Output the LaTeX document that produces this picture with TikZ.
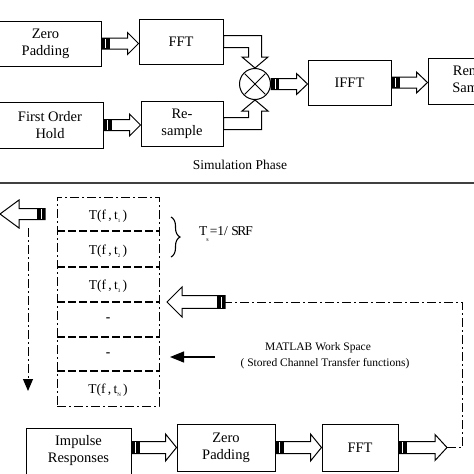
\documentclass[tikz,border=0pt]{standalone}
\usepackage{fontspec}
\setmainfont{Liberation Serif}
\usetikzlibrary{calc,arrows.meta,decorations.pathreplacing}
\tikzset{
  blk/.style={draw, line width=1pt, rectangle, inner sep=0pt, align=center, font=\fontsize{14.5}{17}\selectfont},
  hol/.style={draw, line width=1pt, fill=white, line join=miter},
  ddline/.style={line width=1pt, dash pattern=on 9pt off 3pt on 2pt off 3pt},
  sepline/.style={line width=1.3pt, dash pattern=on 8pt off 3pt},
  rowtxt/.style={font=\fontsize{13.5}{16}\selectfont, inner sep=0pt},
  smalltxt/.style={font=\fontsize{11.5}{15}\selectfont, inner sep=0pt, align=center},
}
% hollow arrow pointing right: #1 start, #2 end, #3 shaft half, #4 head half, #5 head length
\newcommand{\harrowR}[5]{%
  \draw[hol] let \p1=(#1), \p2=(#2) in (\x1,\y1+#3) -- (\x2-#5,\y1+#3) -- (\x2-#5,\y1+#4) -- (\x2,\y1) -- (\x2-#5,\y1-#4) -- (\x2-#5,\y1-#3) -- (\x1,\y1-#3) -- cycle;
  \fill let \p1=(#1) in (\x1,\y1-#3) rectangle (\x1+8pt,\y1+#3);
  \draw[white, line width=0.9pt] let \p1=(#1) in (\x1+4pt,\y1-#3+0.8pt) -- (\x1+4pt,\y1+#3-0.8pt);
}
% hollow arrow pointing left
\newcommand{\harrowL}[5]{%
  \draw[hol] let \p1=(#1), \p2=(#2) in (\x1,\y1+#3) -- (\x2+#5,\y1+#3) -- (\x2+#5,\y1+#4) -- (\x2,\y1) -- (\x2+#5,\y1-#4) -- (\x2+#5,\y1-#3) -- (\x1,\y1-#3) -- cycle;
  \fill let \p1=(#1) in (\x1,\y1-#3) rectangle (\x1-8pt,\y1+#3);
  \draw[white, line width=0.9pt] let \p1=(#1) in (\x1-4pt,\y1-#3+0.8pt) -- (\x1-4pt,\y1+#3-0.8pt);
}
\newcommand{\sub}[1]{\raisebox{-3pt}{\fontsize{5}{5}\selectfont #1}}
\begin{document}
\begin{tikzpicture}[x=1pt,y=-1pt]
\useasboundingbox (0,0) rectangle (474,474);
\fill[white] (0,0) rectangle (474,474);

% ---------- Simulation phase ----------
\node[blk, minimum width=111pt, minimum height=45pt] (zp1) at (45.5,43.5) {Zero\\Padding};
\node[blk, minimum width=84pt, minimum height=45pt] (fft1) at (181,41.5) {FFT};
\node[blk, minimum width=106pt, minimum height=46pt] (foh) at (50,125) {First Order\\Hold};
\node[blk, minimum width=82pt, minimum height=45pt] (rs) at (182,123.5) {Re-\\sample};
\node[draw, circle, line width=1pt, minimum size=31pt, inner sep=0pt] (mult) at (255,84) {};
\draw[line width=1pt, shorten >=1.5pt, shorten <=1.5pt] (mult.north west) -- (mult.south east);
\draw[line width=1pt, shorten >=1.5pt, shorten <=1.5pt] (mult.north east) -- (mult.south west);
\node[blk, minimum width=83pt, minimum height=45pt] (ifft) at (349.5,82.5) {IFFT};
\node[blk, minimum width=98pt, minimum height=46pt] (resam) at (477,81) {Remove\\Samples};

\harrowR{zp1.east}{fft1.west}{5.5pt}{11pt}{11pt}
\harrowR{foh.east}{rs.west}{5.5pt}{11pt}{11pt}
\harrowR{mult.east}{ifft.west}{5.5pt}{10.5pt}{11pt}
\harrowR{ifft.east}{resam.west}{5.5pt}{10.5pt}{11pt}

% bent arrows into the multiplier
\draw[hol] let \p1=(fft1.east), \p2=(mult.north) in
  (\x1,\y1+6pt) -- (\x2+6.5pt,\y1+6pt) -- (\x2+6.5pt,\y2+11pt) -- (\x2+13pt,\y2+11pt) -- (\x2,\y2) --
  (\x2-13pt,\y2+11pt) -- (\x2-6.5pt,\y2+11pt) -- (\x2-6.5pt,\y1-6pt) -- (\x1,\y1-6pt) -- cycle;
\draw[hol] let \p1=(rs.east), \p2=(mult.south) in
  (\x1,\y1-6pt) -- (\x2+6.5pt,\y1-6pt) -- (\x2+6.5pt,\y2-11pt) -- (\x2+13pt,\y2-11pt) -- (\x2,\y2) --
  (\x2-13pt,\y2-11pt) -- (\x2-6.5pt,\y2-11pt) -- (\x2-6.5pt,\y1+6pt) -- (\x1,\y1+6pt) -- cycle;

\node[font=\fontsize{13.5}{16}\selectfont] (simph) at (240,165) {Simulation Phase};
\draw[line width=2.5pt, black!75] (0,183) -- (474,183);

% ---------- Measurement / storage part ----------
\coordinate (lttail) at (45,214);
\coordinate (lttip) at (0,214);
\harrowL{lttail}{lttip}{5.5pt}{14pt}{19pt}

\coordinate (vtop) at (28,228);
\coordinate (vbot) at (28,391);
\draw[ddline, -{Triangle[length=12pt,width=10pt]}] (vtop) -- (vbot);

\node[draw, ddline, minimum width=102pt, minimum height=209pt, inner sep=0pt] (tab) at (108,301.5) {};
\foreach \yy in {231,267,302,337,371}
  \draw[sepline] (57,\yy) -- (159,\yy);
\node[rowtxt] (r1) at (108,216) {T(f\,,\,t\sub{1}\,)};
\node[rowtxt] (r2) at (108,251) {T(f\,,\,t\sub{2}\,)};
\node[rowtxt] (r3) at (108,286.5) {T(f\,,\,t\sub{3}\,)};
\node[rowtxt] (r4) at (108,320) {\textbf{-}};
\node[rowtxt] (r5) at (108,355) {\textbf{-}};
\node[rowtxt] (r6) at (108,390) {T(f\,,\,t\sub{N}\,)};

\draw[decorate, decoration={brace, amplitude=9pt}, line width=1.1pt] (171,217) -- (171,257);
\node[rowtxt, anchor=west] (ts) at (199,234) {T\kern-1pt\raisebox{-6pt}{\fontsize{6}{6}\selectfont s}\kern1pt=1/ S\kern-1.5pt R\kern-1pt F};

\coordinate (bigtail) at (225,302);
\coordinate (bigtip) at (167,302);
\harrowL{bigtail}{bigtip}{6.3pt}{15pt}{15pt}

\coordinate (satail) at (215,357);
\coordinate (satip) at (170,357);
\draw[line width=1.2pt, -{Triangle[length=14pt,width=11pt]}] (satail) -- (satip);

\node[smalltxt] (mws) at (318,348) {MATLAB Work Space};
\node[smalltxt] (scf) at (325,363.5) {( Stored Channel Transfer functions)};

% ---------- bottom chain ----------
\node[blk, minimum width=105pt, minimum height=46pt] (imp) at (78.5,451) {Impulse\\Responses};
\node[blk, minimum width=98pt, minimum height=47pt] (zp2) at (226,447.5) {Zero\\Padding};
\node[blk, minimum width=76pt, minimum height=47pt] (fft2) at (360,447.5) {FFT};
\coordinate (fftout) at (447,447.5);

\harrowR{imp.east |- zp2.west}{zp2.west}{6pt}{13.5pt}{11pt}
\harrowR{zp2.east}{fft2.west}{6pt}{13.5pt}{11pt}
\harrowR{fft2.east}{fftout}{6pt}{13pt}{12pt}

\draw[ddline] (fftout) -- ++(15,0) |- (bigtail);
\end{tikzpicture}
\end{document}
